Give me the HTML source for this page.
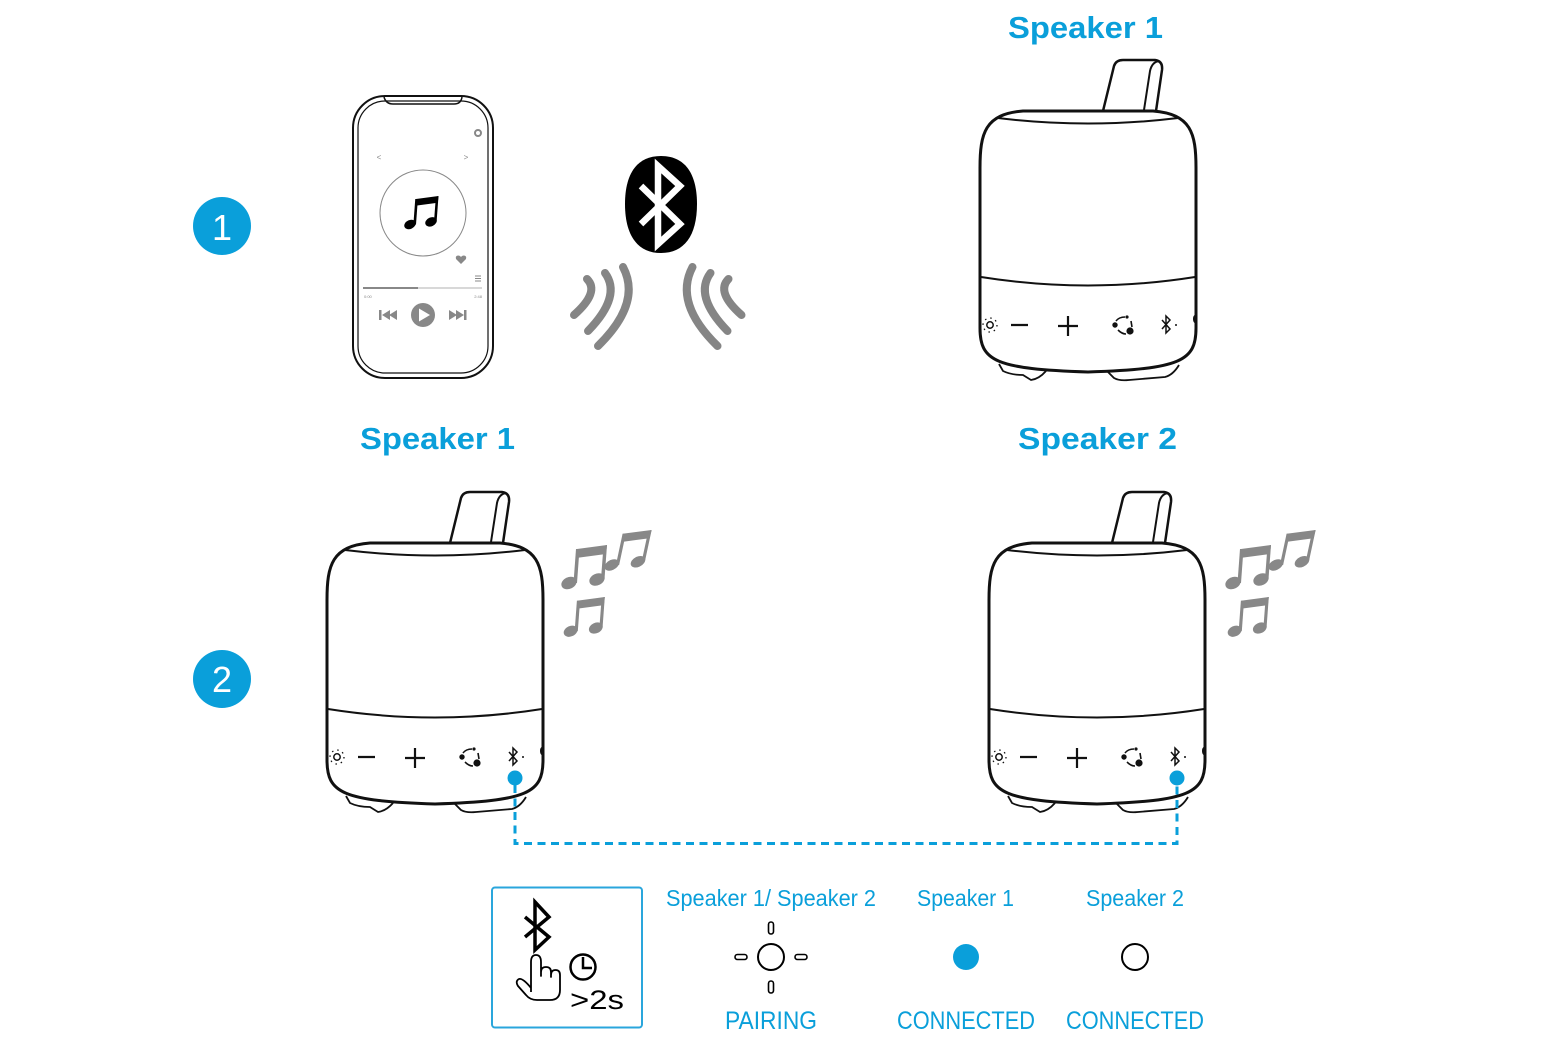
<!DOCTYPE html>
<html><head><meta charset="utf-8"><style>
html,body{margin:0;padding:0;background:#fff;}
svg{display:block;}
</style></head><body>
<svg width="1559" height="1059" viewBox="0 0 1559 1059" xmlns="http://www.w3.org/2000/svg">
<defs>
<g id="spk">
  <path d="M450,543 L461,498 Q463,492 470,492 L502,492 Q510,493 509,502 L503,543" fill="#fff" stroke="#111" stroke-width="2.5" stroke-linejoin="round"/>
  <path d="M491,542 L497,503 Q499,494 506,493" fill="none" stroke="#111" stroke-width="2"/>
  <path d="M346,796 L350,803 Q358,807 370,807 L378,812 Q386,811 393,803" fill="#fff" stroke="#111" stroke-width="1.8"/>
  <path d="M453,802 L461,810 Q466,813 476,812 L512,809 Q520,807 526,797" fill="#fff" stroke="#111" stroke-width="1.8"/>
  <path d="M327,600 C327,565 332,546 370,543 L500,543 C538,546 543,565 543,600 L543,760 C543,793 528,801 435,804 C342,801 327,793 327,760 Z" fill="#fff" stroke="#111" stroke-width="3"/>
  <path d="M345,550 Q435,561 525,550" fill="none" stroke="#111" stroke-width="2"/>
  <path d="M328,709 Q435,726 542,709" fill="none" stroke="#111" stroke-width="2"/>
  <g fill="none" stroke="#111">
    <circle cx="337" cy="757" r="3.2" stroke-width="1.5"/>
    <circle cx="337" cy="757" r="7" stroke-width="1.3" stroke-dasharray="1.5 4"/>
    <path d="M358,757 H375" stroke-width="2.2"/>
    <path d="M405,758 H425 M415,748 V768" stroke-width="2.2"/>
    <path d="M463,753 Q466,749 472,749" stroke-width="1.6"/>
    <path d="M478,753 L479,759" stroke-width="1.6"/>
    <path d="M465,762 Q469,766 473,766" stroke-width="1.6"/>
    <path d="M509,752 L517,761 L513,765 V748 L517,752 L509,761" stroke-width="1.5"/>
  </g>
  <circle cx="462" cy="757" r="2.7" fill="#111"/>
  <circle cx="477" cy="763" r="3.6" fill="#111"/>
  <circle cx="474" cy="749" r="1.6" fill="#111"/>
  <circle cx="523" cy="757" r="1" fill="#111"/>
  <ellipse cx="542" cy="751" rx="2" ry="4" fill="#111"/>
</g>
<g id="note">
  <path d="M12,4 L42,0 L41,9 L11,13 Z"/>
  <path d="M11,4 L14.5,4 L12,38 L8.5,38 Z"/>
  <path d="M38.5,1 L42,0 L39.5,34 L36,34 Z"/>
  <ellipse cx="4" cy="38" rx="8" ry="5.8" transform="rotate(-25 4 38)"/>
  <ellipse cx="32" cy="34.5" rx="8" ry="5.8" transform="rotate(-25 32 34.5)"/>
</g>
<g id="notes" fill="#888">
  <use href="#note" transform="translate(565,545)"/>
  <use href="#note" transform="translate(613,530) scale(0.92) skewX(-8)"/>
  <use href="#note" transform="translate(567,597) scale(0.9)"/>
</g>
</defs>

<!-- step circles -->
<circle cx="222" cy="226" r="29" fill="#0a9fda"/>
<text x="222" y="240" font-family="Liberation Sans, sans-serif" font-size="36" fill="#fff" text-anchor="middle">1</text>
<circle cx="222" cy="679" r="29" fill="#0a9fda"/>
<text x="222" y="692" font-family="Liberation Sans, sans-serif" font-size="36" fill="#fff" text-anchor="middle">2</text>

<!-- labels -->
<g font-family="Liberation Sans, sans-serif" font-weight="bold" font-size="31" fill="#0a9fda">
  <text x="1008" y="38" textLength="155" lengthAdjust="spacingAndGlyphs">Speaker 1</text>
  <text x="360" y="449" textLength="155" lengthAdjust="spacingAndGlyphs">Speaker 1</text>
  <text x="1018" y="449" textLength="159" lengthAdjust="spacingAndGlyphs">Speaker 2</text>
</g>

<!-- phone -->
<rect x="353" y="96" width="140" height="282" rx="32" fill="#fff" stroke="#111" stroke-width="2"/>
<rect x="358" y="101" width="130" height="272" rx="27" fill="none" stroke="#111" stroke-width="1.2"/>
<path d="M384,97 Q386,104 393,104 L454,104 Q461,104 462,97" fill="none" stroke="#111" stroke-width="1.5"/>
<circle cx="478" cy="133" r="3" fill="none" stroke="#888" stroke-width="2"/>
<text x="379" y="160" font-family="Liberation Sans, sans-serif" font-size="8" fill="#888" text-anchor="middle">&lt;</text>
<text x="466" y="160" font-family="Liberation Sans, sans-serif" font-size="8" fill="#888" text-anchor="middle">&gt;</text>
<circle cx="423" cy="213" r="43" fill="none" stroke="#888" stroke-width="1"/>
<use href="#note" transform="translate(407,196) scale(0.75)" fill="#000"/>
<path d="M461,264 L456,259 Q455,256 458,255.5 Q460,255.5 461,257 Q462,255.5 464,255.5 Q467,256 466,259 Z" fill="#888"/>
<path d="M475,276 H481 M475,278.5 H481 M475,281 H481" stroke="#888" stroke-width="1"/>
<path d="M363,288 H482" stroke="#ccc" stroke-width="1.5"/>
<path d="M363,288 H418" stroke="#888" stroke-width="2"/>
<text x="364" y="298" font-family="Liberation Sans, sans-serif" font-size="4" fill="#888">0:00</text>
<text x="482" y="298" font-family="Liberation Sans, sans-serif" font-size="4" fill="#888" text-anchor="end">2:48</text>
<g fill="#888">
  <rect x="379" y="310" width="2.5" height="10"/>
  <path d="M382,315 L390,310 V320 Z M389,315 L397,310 V320 Z"/>
  <circle cx="423" cy="315" r="12"/>
  <path d="M464,310 H466.5 V320 H464 Z M464,315 L456,310 V320 Z M457,315 L449,310 V320 Z"/>
</g>
<path d="M419,308.5 L430,315 L419,321.5 Z" fill="#fff"/>

<!-- bluetooth blob -->
<path d="M661,156 C688,156 697,178 697,204 C697,236 684,253 661,253 C638,253 625,236 625,204 C625,178 634,156 661,156 Z" fill="#000"/>
<path d="M641,186 L680,224 L658,244 V166 L680,186 L641,224" fill="none" stroke="#fff" stroke-width="6.5" stroke-linejoin="miter" stroke-linecap="butt"/>

<!-- waves -->
<g fill="none" stroke="#858585" stroke-width="8" stroke-linecap="round">
  <path d="M587,279 Q600,292 574,315"/>
  <path d="M605,273 Q622,296 588,331"/>
  <path d="M623,267 Q642,303 598,346"/>
  <g transform="translate(1315.5,0) scale(-1,1)">
    <path d="M587,279 Q600,292 574,315"/>
    <path d="M605,273 Q622,296 588,331"/>
    <path d="M623,267 Q642,303 598,346"/>
  </g>
</g>

<!-- speakers -->
<use href="#spk" transform="translate(653,-432)"/>
<use href="#spk"/>
<use href="#spk" transform="translate(662,0)"/>

<!-- notes -->
<use href="#notes"/>
<use href="#notes" transform="translate(664,0)"/>

<!-- dashed connector -->
<path d="M515,785 V843.5 H1177 V785" fill="none" stroke="#0a9fda" stroke-width="3" stroke-dasharray="8 5.5"/>
<circle cx="515" cy="778" r="7.5" fill="#0a9fda"/>
<circle cx="1177" cy="778" r="7.5" fill="#0a9fda"/>

<!-- legend box -->
<rect x="492" y="887.5" width="150" height="140" rx="3" fill="none" stroke="#2aa6dc" stroke-width="2"/>
<path d="M525,917 L549,937 L535,950 V902 L549,917 L525,937" fill="none" stroke="#000" stroke-width="3.5"/>
<path d="M531,992 L531,962 Q531,955 536,955 Q541,955 541,962 L541,976 L541,972 Q541,967 546,967 Q551,967 551,972 L551,977 L551,975 Q551,970 555.5,970 Q560,970 560,975 L560,990 Q560,1000 550,1000 L537,1000 Q530,1000 526,995 L518,986 Q515,981 519,979 Q523,978 531,988" fill="#fff" stroke="#000" stroke-width="1.8" stroke-linejoin="round"/>
<circle cx="583" cy="967" r="12.5" fill="none" stroke="#000" stroke-width="2.5"/>
<path d="M583,957 V968 H592" fill="none" stroke="#000" stroke-width="2.5"/>
<text x="570" y="1009" font-family="Liberation Sans, sans-serif" font-size="27" fill="#000" textLength="54" lengthAdjust="spacingAndGlyphs">&gt;2s</text>

<!-- legend items -->
<g font-family="Liberation Sans, sans-serif" font-size="23" fill="#0a9fda">
  <text x="666" y="906" textLength="210" lengthAdjust="spacingAndGlyphs">Speaker 1/ Speaker 2</text>
  <text x="917" y="906" textLength="97" lengthAdjust="spacingAndGlyphs">Speaker 1</text>
  <text x="1086" y="906" textLength="98" lengthAdjust="spacingAndGlyphs">Speaker 2</text>
</g>
<g font-family="Liberation Sans, sans-serif" font-size="25" fill="#0a9fda">
  <text x="725" y="1029" textLength="92" lengthAdjust="spacingAndGlyphs">PAIRING</text>
  <text x="897" y="1029" textLength="138" lengthAdjust="spacingAndGlyphs">CONNECTED</text>
  <text x="1066" y="1029" textLength="138" lengthAdjust="spacingAndGlyphs">CONNECTED</text>
</g>
<circle cx="771" cy="957" r="13" fill="none" stroke="#000" stroke-width="2"/>
<g fill="none" stroke="#000" stroke-width="1.6">
  <rect x="768.5" y="922" width="5" height="12" rx="2.5"/>
  <rect x="768.5" y="981" width="5" height="12" rx="2.5"/>
  <rect x="735" y="954.5" width="12" height="5" rx="2.5"/>
  <rect x="795" y="954.5" width="12" height="5" rx="2.5"/>
</g>
<circle cx="966" cy="957" r="13" fill="#0a9fda"/>
<circle cx="1135" cy="957" r="13" fill="none" stroke="#000" stroke-width="2"/>
</svg>
</body></html>
